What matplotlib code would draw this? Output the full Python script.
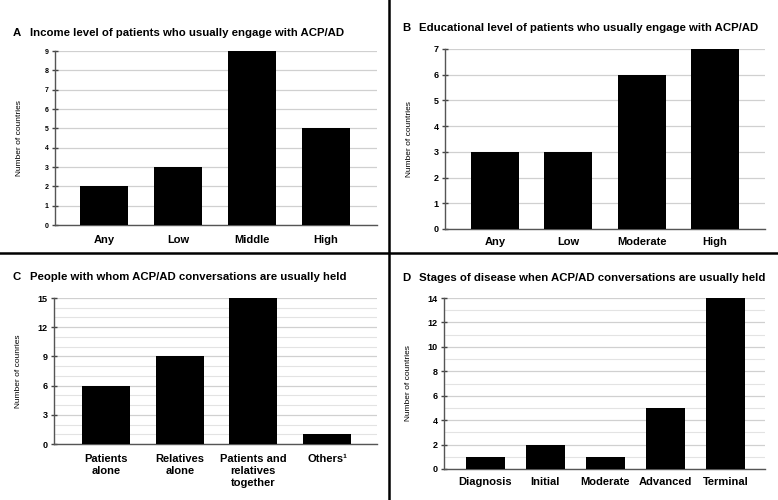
import matplotlib
matplotlib.use('Agg')
import matplotlib.pyplot as plt
from matplotlib.lines import Line2D
from matplotlib.ticker import MultipleLocator

plt.rcParams['font.family'] = ['Liberation Sans', 'DejaVu Sans']

# Data
income_cats = ['Any', 'Low', 'Middle', 'High']
income_vals = [2, 3, 9, 5]

edu_cats = ['Any', 'Low', 'Moderate', 'High']
edu_vals = [3, 3, 6, 7]

people_cats = ['Patients\nalone', 'Relatives\nalone', 'Patients and\nrelatives\ntogether', 'Others¹']
people_vals = [6, 9, 15, 1]

stage_cats = ['Diagnosis', 'Initial', 'Moderate', 'Advanced', 'Terminal']
stage_vals = [1, 2, 1, 5, 14]

W, H = 778, 500
fig = plt.figure(figsize=(W / 100, H / 100), dpi=100)


def px_axes(left, right, top, bottom):
    return fig.add_axes([left / W, 1 - bottom / H, (right - left) / W, (bottom - top) / H])


def panel(ax, cats, vals, ymax, major, minor, xlim, tick_fs, cat_fs, ylabel, pad=6):
    x = range(len(cats))
    ax.bar(x, vals, width=0.65, color='black', zorder=3)
    ax.set_ylim(0, ymax)
    ax.set_xlim(*xlim)
    ax.yaxis.set_major_locator(MultipleLocator(major))
    if minor:
        ax.yaxis.set_minor_locator(MultipleLocator(minor))
        ax.grid(axis='y', which='minor', color='#e3e3e3', linewidth=0.8, zorder=0)
    ax.grid(axis='y', which='major', color='#d0d0d0', linewidth=0.9, zorder=0)
    ax.set_xticks(list(x))
    ax.set_xticklabels(cats, fontsize=cat_fs, fontweight='bold', linespacing=1.25)
    ax.tick_params(axis='x', length=0, pad=pad)
    ax.tick_params(axis='y', which='major', direction='inout', length=5, width=1,
                   color='#444444', labelsize=tick_fs, pad=2)
    ax.tick_params(axis='y', which='minor', length=0)
    for lab in ax.get_yticklabels():
        lab.set_fontweight('bold')
    for s in ['top', 'right']:
        ax.spines[s].set_visible(False)
    for s in ['left', 'bottom']:
        ax.spines[s].set_color('#555555')
        ax.spines[s].set_linewidth(1.0)
    ax.set_ylabel(ylabel, fontsize=6)
    ax.yaxis.set_label_coords(-0.1, 0.5)


axA = px_axes(55, 377, 51, 225)
panel(axA, income_cats, income_vals, 9, 1, None, (-0.66, 3.69), 5, 8, 'Number of countries', pad=7)

axB = px_axes(445, 765, 49, 229)
panel(axB, edu_cats, edu_vals, 7, 1, None, (-0.68, 3.68), 6.5, 8, 'Number of countries', pad=6)

axC = px_axes(54, 377, 298, 444)
panel(axC, people_cats, people_vals, 15, 3, 1, (-0.71, 3.68), 6.5, 8, 'Number of counries', pad=7)

axD = px_axes(444, 765, 298, 469)
panel(axD, stage_cats, stage_vals, 14, 2, 1, (-0.69, 4.66), 6.5, 8, 'Number of countries', pad=6)

# Panel titles
titles = [
    (13, 30, 33, 'A', 'Income level of patients who usually engage with ACP/AD'),
    (402, 419, 28, 'B', 'Educational level of patients who usually engage with ACP/AD'),
    (13, 30, 277, 'C', 'People with whom ACP/AD conversations are usually held'),
    (402, 419, 278, 'D', 'Stages of disease when ACP/AD conversations are usually held'),
]
for xl, xt, y, letter, text in titles:
    fig.text(xl / W, 1 - y / H, letter, fontsize=8.2, fontweight='bold', va='center', ha='left')
    fig.text(xt / W, 1 - y / H, text, fontsize=8.2, fontweight='bold', va='center', ha='left')

# Dividers
fig.add_artist(Line2D([389 / W, 389 / W], [0, 1], color='black', linewidth=1.8))
fig.add_artist(Line2D([0, 1], [1 - 253 / H, 1 - 253 / H], color='black', linewidth=1.8))

fig.savefig('out.png', dpi=100)
